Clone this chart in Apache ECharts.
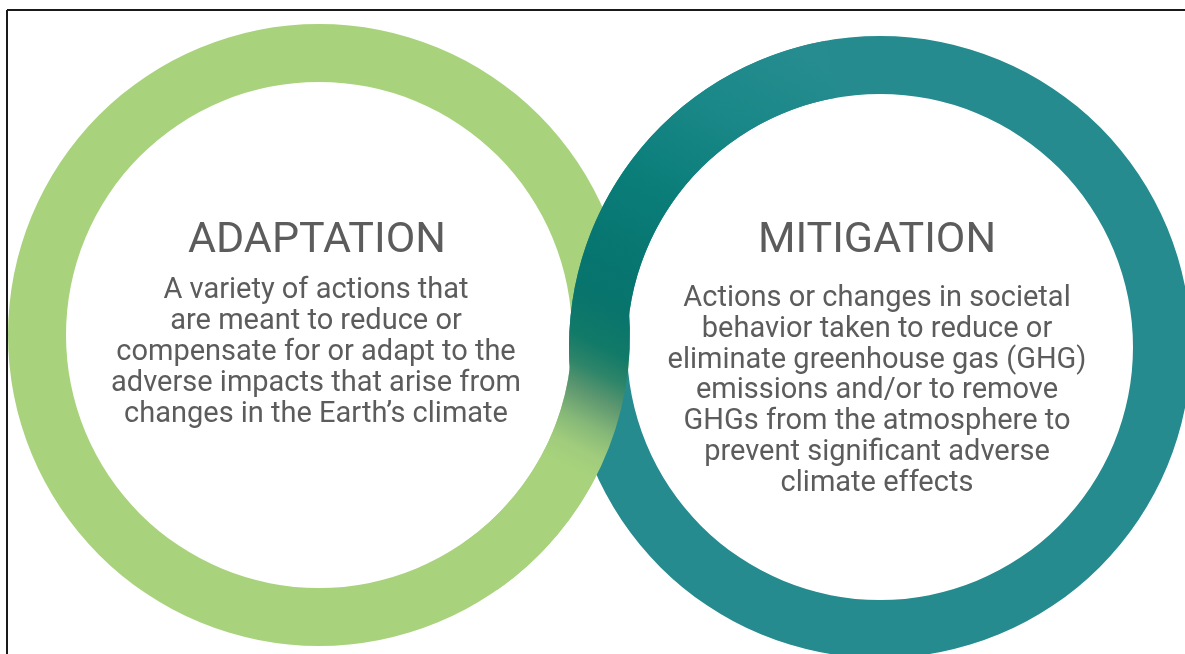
<!DOCTYPE html>
<html>
<head>
<meta charset="utf-8">
<script src="https://cdn.jsdelivr.net/npm/echarts@6/dist/echarts.min.js"></script>
<style>
  html, body { margin: 0; padding: 0; background: #fff; }
  #chart { width: 1185px; height: 654px; }
</style>
</head>
<body>
<div id="chart"></div>
<script>
// ring titles and their descriptions
var titles = ['ADAPTATION', 'MITIGATION'];
var adaptationLines = [
  'A variety of actions that',
  'are meant to reduce or',
  'compensate for or adapt to the',
  'adverse impacts that arise from',
  'changes in the Earth\u2019s climate'
];
var mitigationLines = [
  'Actions or changes in societal',
  'behavior taken to reduce or',
  'eliminate greenhouse gas (GHG)',
  'emissions and/or to remove',
  'GHGs from the atmosphere to',
  'prevent significant adverse',
  'climate effects'
];
// arc spans (degrees) of the blended overlap segment vs the rest of the ring
var tealOverlap = [85, 275];
var greenOverlap = [60, 300];

var GREEN = '#a8d37c';
var TEAL = '#258b8e';
var TEXT = '#5c5c5c';

var chart = echarts.init(document.getElementById('chart'));

// one gradient shared by both overlapping arcs, in page pixels
var blend = {
  type: 'linear', x: 780, y: 40, x2: 560, y2: 480, global: true,
  colorStops: [
    { offset: 0, color: '#268c8f' },
    { offset: 0.18, color: '#1a8888' },
    { offset: 0.37, color: '#0b7e7a' },
    { offset: 0.55, color: '#077570' },
    { offset: 0.64, color: '#08746c' },
    { offset: 0.72, color: '#127a68' },
    { offset: 0.77, color: '#2e8569' },
    { offset: 0.82, color: '#5f9870' },
    { offset: 0.875, color: '#86b878' },
    { offset: 0.925, color: '#a0cc7c' },
    { offset: 0.97, color: GREEN },
    { offset: 1, color: GREEN }
  ]
};

function ring(center, data, startAngle, z) {
  return {
    type: 'pie',
    silent: true,
    center: center,
    radius: [253, 311],
    startAngle: startAngle,
    clockwise: true,
    z: z,
    label: { show: false },
    labelLine: { show: false },
    itemStyle: { borderWidth: 0 },
    data: data
  };
}

function textEl(x, y, text, size, lh) {
  return {
    type: 'text',
    x: x,
    y: y,
    silent: true,
    style: {
      text: text,
      font: size + 'px Roboto',
      fontFamily: 'Roboto',
      fontSize: size,
      lineHeight: lh,
      fill: TEXT,
      align: 'center',
      textAlign: 'center',
      verticalAlign: 'top',
      textVerticalAlign: 'top'
    }
  };
}

var option = {
  animation: false,
  backgroundColor: '#fff',
  series: [
    ring([319, 335], [{ value: 1, itemStyle: { color: GREEN } }], 90, 1),
    ring([880, 347], [{ value: 1, itemStyle: { color: TEAL } }], 90, 2),
    ring([880, 347], [
      { value: tealOverlap[0], itemStyle: { color: blend } },
      { value: tealOverlap[1], itemStyle: { color: 'rgba(0,0,0,0)' } }
    ], 185, 3),
    ring([319, 335], [
      { value: greenOverlap[0], itemStyle: { color: blend } },
      { value: greenOverlap[1], itemStyle: { color: 'rgba(0,0,0,0)' } }
    ], 5, 4)
  ],
  graphic: [
    { type: 'line', shape: { x1: 7, y1: 10, x2: 1185, y2: 10 }, style: { stroke: '#1a1a1a', lineWidth: 2 }, z: 10 },
    { type: 'line', shape: { x1: 7, y1: 10, x2: 7, y2: 654 }, style: { stroke: '#1a1a1a', lineWidth: 2 }, z: 10 },
    textEl(317, 216, titles[0], 43, 50),
    textEl(316, 275, adaptationLines.join('\n'), 29, 31),
    textEl(877, 216, titles[1], 43, 50),
    textEl(877, 283, mitigationLines.join('\n'), 29, 30.9)
  ]
};

chart.setOption(option);
</script>
</body>
</html>
